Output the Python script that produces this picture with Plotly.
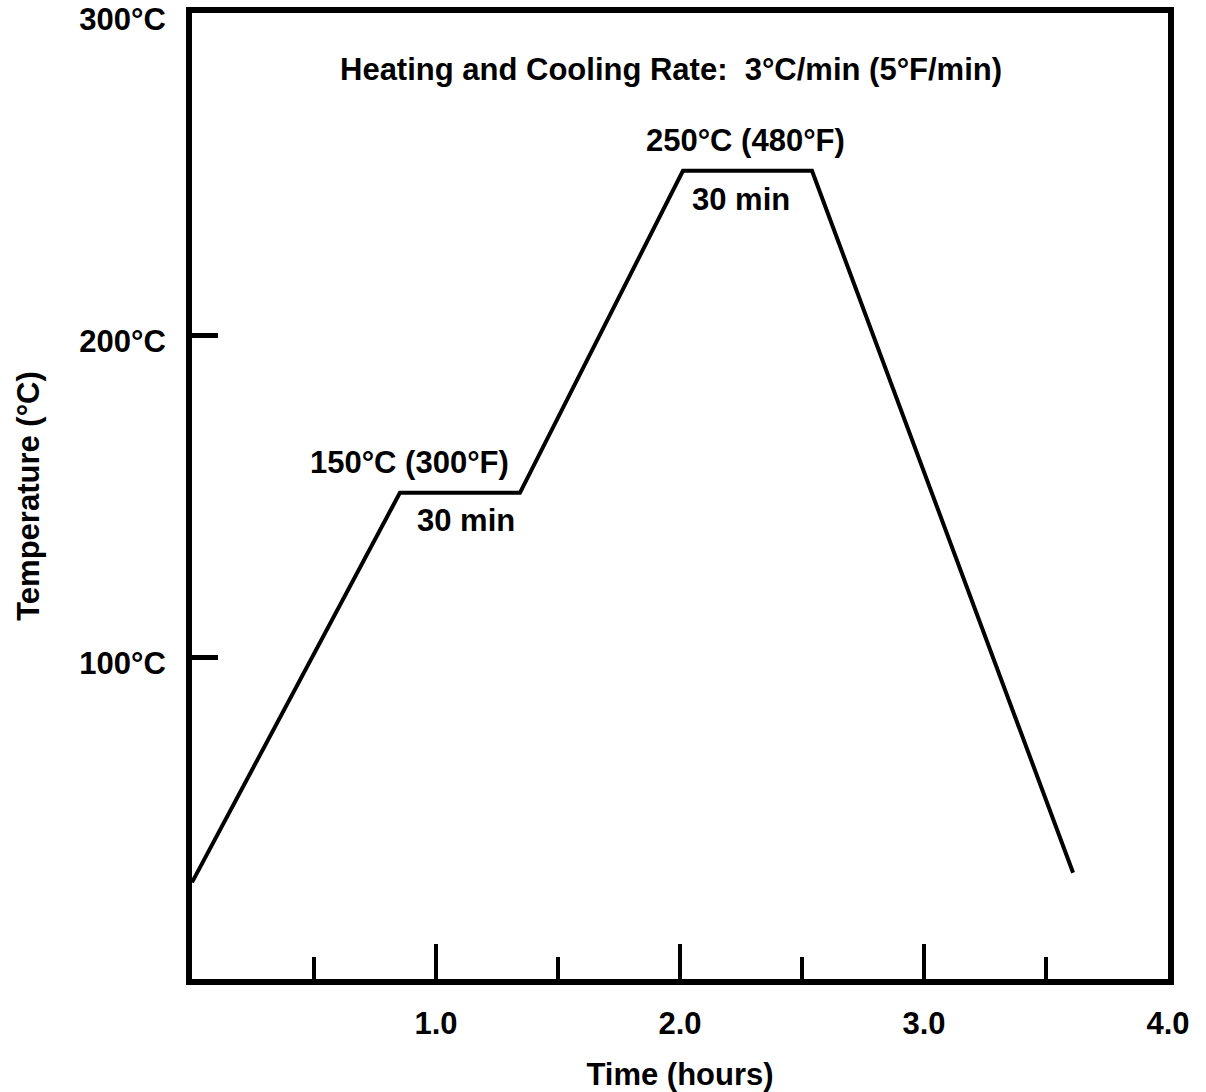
import plotly.graph_objects as go

# Data
time_h = [0.0, 0.852, 1.344, 2.012, 2.541, 3.611]
temp_c = [30, 151, 151, 251, 251, 33]

x_tick_vals = [1, 2, 3, 4]
x_tick_text = ["1.0", "2.0", "3.0", "4.0"]
x_major_ticks = [1, 2, 3]
x_minor_ticks = [0.5, 1.5, 2.5, 3.5]
y_tick_vals = [100, 200, 300]
y_tick_text = ["100°C", "200°C", "300°C"]
y_minor_ticks = [100, 200]

ann_text = ["Heating and Cooling Rate:\u00a0 3°C/min (5°F/min)",
            "250°C (480°F)", "30 min", "150°C (300°F)", "30 min"]
ann_x = [1.963, 2.27, 2.25, 0.893, 1.123]
ann_y = [282.5, 260.5, 242.0, 160.5, 142.5]

FONT = dict(family="Liberation Sans, Arial, sans-serif", size=31, color="black", weight="bold")

fig = go.Figure()
fig.add_trace(go.Scatter(x=time_h, y=temp_c, mode="lines",
                         line=dict(color="black", width=4), showlegend=False,
                         hoverinfo="skip"))
# empty trace to create overlay x-axis for long major ticks
fig.add_trace(go.Scatter(x=[], y=[], xaxis="x2", yaxis="y", showlegend=False))

for t, x, y in zip(ann_text, ann_x, ann_y):
    fig.add_annotation(x=x, y=y, xref="x", yref="y", text=t, showarrow=False,
                       font=FONT, xanchor="center", yanchor="middle")

fig.update_layout(
    width=1206, height=1092,
    margin=dict(l=192, r=38, t=13, b=113, autoexpand=False),
    paper_bgcolor="white", plot_bgcolor="white",
    font=FONT,
    showlegend=False,
    xaxis=dict(range=[0, 4], tickmode="array", tickvals=x_tick_vals, ticktext=x_tick_text,
               ticks="", showgrid=False, zeroline=False, automargin=False,
               showline=True, linewidth=6, linecolor="black", mirror=True,
               minor=dict(tickmode="array", tickvals=x_minor_ticks, ticks="inside",
                          ticklen=22, tickwidth=4, tickcolor="black", showgrid=False),
               ticklabelstandoff=12, ticklabeloverflow="allow",
               tickfont=FONT,
               title=dict(text="Time (hours)", font=FONT, standoff=26)),
    xaxis2=dict(range=[0, 4], overlaying="x", anchor="y", side="bottom",
                tickmode="array", tickvals=x_major_ticks, ticks="inside",
                ticklen=35, tickwidth=4, tickcolor="black", automargin=False,
                showticklabels=False, showgrid=False, zeroline=False, showline=False),
    yaxis=dict(range=[0, 300], tickmode="array", tickvals=y_tick_vals, ticktext=y_tick_text,
               ticks="", showgrid=False, zeroline=False, automargin=False,
               showline=True, linewidth=6, linecolor="black", mirror=True,
               minor=dict(tickmode="array", tickvals=y_minor_ticks, ticks="inside",
                          ticklen=26, tickwidth=5, tickcolor="black", showgrid=False),
               ticklabelstandoff=14, ticklabelshift=6, ticklabeloverflow="allow",
               tickfont=FONT,
               title=dict(text="Temperature (°C)", font=FONT, standoff=32)),
)

fig.write_html("out.html")
